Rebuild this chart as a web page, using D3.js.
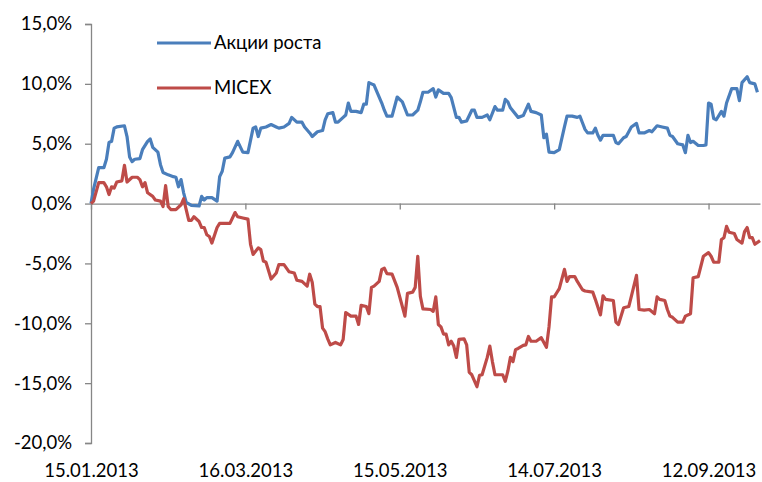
<!DOCTYPE html>
<html lang="ru">
<head>
<meta charset="UTF-8">
<script src="https://d3js.org/d3.v7.min.js"></script>
<style>
  body { margin: 0; background: #fff; }
  svg text { font-family: Lato, "Liberation Sans", sans-serif; fill: #000; }
</style>
</head>
<body>
<div id="plot"></div>
<script>
// day offsets from 15.01.2013 and values in %
const startDate = new Date(2013, 0, 15);
const endDay = 260;
const tickDays = [0, 60, 120, 180, 240];
const yTicks = [-20, -15, -10, -5, 0, 5, 10, 15];
const seriesNames = ["Акции роста", "MICEX"];

const growthDays = [0, 1, 3, 5, 6, 7, 8, 9, 10, 13, 14, 15, 16, 17, 19, 20, 22, 23, 24, 26, 27, 28, 30, 32, 33, 34, 35, 36, 37, 39, 42, 43, 44, 45, 47, 49, 50, 51, 52, 54, 55, 57, 59, 61, 63, 64, 65, 66, 68, 70, 72, 73, 75, 77, 78, 80, 82, 83, 85, 86, 88, 90, 91, 92, 94, 95, 96, 98, 99, 100, 101, 103, 105, 106, 107, 108, 109, 110, 112, 113, 114, 115, 117, 119, 121, 123, 125, 127, 128, 129, 131, 133, 134, 135, 137, 139, 140, 142, 143, 144, 146, 148, 149, 150, 152, 154, 155, 157, 158, 160, 161, 162, 163, 166, 168, 170, 171, 173, 175, 176, 177, 178, 180, 182, 184, 185, 187, 189, 190, 191, 192, 193, 195, 196, 197, 198, 199, 201, 203, 204, 205, 207, 208, 210, 212, 213, 215, 217, 218, 220, 222, 224, 225, 226, 228, 230, 231, 232, 233, 234, 236, 238, 239, 240, 241, 242, 243, 245, 246, 247, 249, 251, 252, 253, 255, 256, 258, 259];
const growthValues = [0.0, 1.2, 3.0, 3.0, 3.7, 5.1, 5.2, 6.3, 6.4, 6.5, 5.6, 3.9, 3.5, 3.7, 3.75, 4.5, 5.2, 5.4, 4.7, 4.3, 3.25, 2.6, 2.4, 2.25, 2.2, 1.4, 2.0, 0.9, 0.1, -0.15, -0.2, 0.6, 0.3, 0.5, 0.5, 0.2, 2.25, 2.7, 3.8, 3.9, 4.25, 5.2, 4.3, 4.25, 6.3, 6.4, 5.6, 6.3, 6.4, 6.6, 6.4, 6.3, 6.4, 6.7, 7.2, 6.8, 6.8, 6.4, 5.9, 5.6, 6.0, 6.1, 7.0, 7.5, 7.6, 6.8, 6.8, 7.2, 7.4, 8.4, 7.7, 7.7, 7.6, 8.3, 8.3, 10.1, 10.0, 9.9, 8.9, 8.4, 7.8, 7.3, 7.3, 8.9, 8.5, 7.4, 7.4, 7.8, 8.5, 9.3, 9.3, 9.6, 8.9, 9.5, 9.2, 9.2, 8.85, 7.2, 7.2, 6.8, 6.9, 7.8, 7.8, 7.2, 7.2, 7.4, 7.0, 8.1, 7.8, 7.8, 8.7, 8.5, 8.0, 7.2, 7.35, 8.3, 7.7, 7.6, 7.4, 5.5, 5.8, 4.3, 4.25, 4.5, 6.4, 7.3, 7.3, 7.2, 7.3, 6.75, 6.2, 5.9, 5.9, 6.3, 5.7, 5.3, 5.7, 5.7, 5.7, 5.1, 5.0, 5.5, 5.6, 6.4, 6.7, 5.9, 5.9, 6.1, 6.0, 6.5, 6.4, 6.3, 5.7, 5.6, 5.0, 4.9, 4.25, 5.7, 5.1, 5.2, 4.85, 4.85, 4.9, 8.4, 8.3, 7.1, 7.0, 7.7, 7.3, 8.4, 9.6, 9.6, 8.6, 10.1, 10.6, 10.1, 10.0, 9.3];

const micexDays = [0, 1, 3, 5, 6, 7, 8, 9, 10, 12, 13, 14, 16, 18, 19, 20, 21, 22, 24, 25, 27, 28, 29, 30, 31, 33, 35, 36, 37, 38, 39, 40, 42, 43, 44, 45, 46, 47, 49, 50, 52, 54, 56, 57, 59, 61, 62, 63, 65, 66, 67, 68, 70, 72, 73, 75, 77, 79, 80, 82, 84, 85, 86, 87, 88, 89, 90, 91, 92, 93, 95, 97, 98, 99, 101, 103, 104, 105, 107, 108, 109, 110, 112, 113, 114, 115, 117, 119, 122, 123, 125, 126, 127, 128, 129, 132, 133, 134, 135, 136, 137, 138, 139, 140, 141, 142, 143, 145, 146, 147, 148, 150, 151, 152, 154, 155, 156, 157, 160, 161, 162, 163, 164, 165, 166, 168, 169, 170, 171, 173, 175, 177, 178, 179, 180, 181, 182, 184, 185, 186, 188, 189, 191, 192, 195, 196, 198, 199, 200, 203, 204, 205, 207, 209, 210, 212, 213, 215, 217, 219, 220, 221, 223, 224, 225, 226, 228, 230, 231, 233, 234, 236, 238, 240, 241, 242, 244, 245, 246, 247, 248, 250, 251, 253, 254, 255, 256, 257, 258, 260];
const micexValues = [0.0, 0.2, 1.75, 1.75, 1.4, 0.75, 1.4, 1.3, 1.8, 1.9, 3.2, 1.8, 2.2, 2.2, 2.0, 1.4, 1.75, 0.9, 0.6, 0.3, 0.2, -0.25, 1.5, -0.25, -0.5, -0.5, -0.1, 0.4, -0.5, -1.4, -1.4, -1.1, -1.5, -2.0, -2.0, -2.6, -2.75, -3.3, -2.0, -1.65, -1.65, -1.65, -0.75, -1.1, -1.2, -1.3, -3.4, -4.25, -3.7, -3.85, -4.8, -4.9, -6.3, -5.8, -5.1, -5.1, -5.7, -5.8, -6.4, -6.5, -6.9, -5.9, -6.6, -8.4, -8.6, -8.6, -10.4, -10.7, -11.3, -11.8, -11.6, -11.8, -11.35, -9.1, -9.4, -9.4, -10.1, -8.5, -8.6, -9.2, -7.0, -6.9, -6.5, -5.5, -5.4, -5.85, -5.9, -7.0, -9.4, -7.5, -7.4, -7.0, -4.4, -7.75, -8.8, -8.85, -9.0, -7.8, -10.1, -10.3, -10.9, -10.9, -11.8, -11.5, -11.9, -12.85, -11.35, -11.3, -11.8, -14.1, -14.3, -15.3, -14.35, -14.3, -12.85, -11.9, -13.2, -14.3, -14.3, -14.85, -14.0, -12.85, -13.2, -12.2, -12.1, -11.85, -11.8, -11.1, -11.5, -11.5, -11.2, -12.0, -10.3, -7.8, -7.8, -7.45, -7.1, -5.5, -6.5, -6.1, -6.1, -6.5, -7.2, -7.3, -7.4, -8.0, -9.3, -7.7, -8.0, -8.1, -9.9, -10.1, -8.7, -8.6, -7.75, -6.0, -8.85, -8.9, -8.85, -9.2, -7.8, -8.0, -8.1, -8.85, -9.4, -9.5, -9.9, -9.9, -9.4, -9.2, -6.2, -6.1, -4.4, -4.1, -4.4, -4.9, -4.9, -3.0, -2.85, -1.9, -2.4, -2.5, -3.0, -3.3, -2.35, -2.0, -2.85, -2.85, -3.4, -3.1];

const colors = ["#4a7ebb", "#be4b48"];

function chart() {
  const width = 762, height = 482;
  const left = 91, right = 760, top = 24, bottom = 443;
  const fontSize = 18.5;

  const dayDate = d => d3.timeDay.offset(startDate, d);

  const x = d3.scaleTime()
      .domain([startDate, dayDate(endDay)])
      .range([left, right]);

  const y = d3.scaleLinear()
      .domain([-20, 15])
      .range([bottom, top]);

  const ru = d3.formatLocale({decimal: ",", thousands: " ", grouping: [3], currency: ["", ""], minus: "-"});
  const pct = v => ru.format(".1f")(v) + "%";

  const svg = d3.select("#plot").append("svg")
      .attr("width", width)
      .attr("height", height);

  // y axis
  const yAxis = svg.append("g")
      .attr("transform", `translate(${left},0)`)
      .call(d3.axisLeft(y).tickValues(yTicks).tickFormat(pct).tickSize(6).tickSizeOuter(6));
  yAxis.select(".domain").attr("stroke", "#868686").attr("stroke-width", 1.3);
  yAxis.selectAll(".tick line").attr("stroke", "#868686").attr("stroke-width", 1.3);
  yAxis.selectAll(".tick text")
      .attr("x", -19)
      .attr("font-size", fontSize);

  // x axis sits on the 0% line, labels at the bottom
  const xAxis = svg.append("g")
      .attr("transform", `translate(0,${y(0)})`)
      .call(d3.axisBottom(x)
        .tickValues(tickDays.map(dayDate))
        .tickFormat(d3.timeFormat("%d.%m.%Y"))
        .tickSize(6).tickSizeOuter(0));
  xAxis.select(".domain").attr("stroke", "#868686").attr("stroke-width", 1.3);
  xAxis.selectAll(".tick line").attr("stroke", "#868686").attr("stroke-width", 1.3);
  xAxis.selectAll(".tick text")
      .attr("y", bottom - y(0) + 28)
      .attr("dy", "0.35em")
      .attr("font-size", fontSize);

  // lines
  const line = d3.line()
      .x(d => x(dayDate(d[0])))
      .y(d => y(d[1]));

  const series = [
    d3.zip(growthDays, growthValues),
    d3.zip(micexDays, micexValues)
  ];

  svg.append("g").selectAll("path")
    .data(series)
    .join("path")
      .attr("fill", "none")
      .attr("stroke", (d, i) => colors[i])
      .attr("stroke-width", 3.2)
      .attr("stroke-linejoin", "round")
      .attr("d", line);

  // legend
  const legend = svg.append("g").selectAll("g")
    .data(seriesNames)
    .join("g")
      .attr("transform", (d, i) => `translate(157,${43 + i * 45})`);
  legend.append("line")
      .attr("x1", 0).attr("x2", 54)
      .attr("stroke", (d, i) => colors[i])
      .attr("stroke-width", 3.2);
  legend.append("text")
      .attr("x", 57)
      .attr("dy", "0.35em")
      .attr("font-size", fontSize)
      .text(d => d);
}

chart();
</script>
</body>
</html>
